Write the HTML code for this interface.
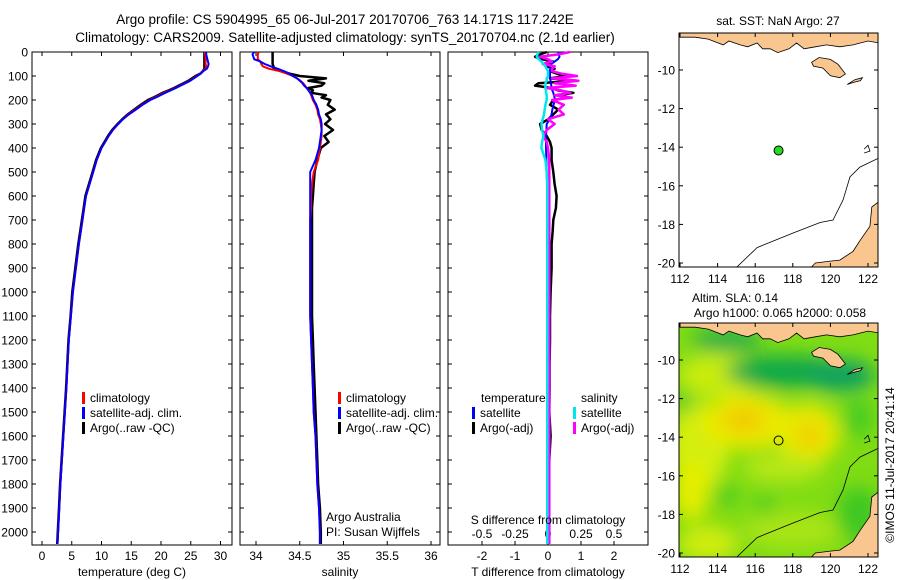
<!DOCTYPE html>
<html><head><meta charset="utf-8"><style>
body{margin:0;background:#fff;}
svg{display:block;font-family:"Liberation Sans",sans-serif;}
</style></head><body>
<svg id="c" width="900" height="580" viewBox="0 0 900 580" xmlns="http://www.w3.org/2000/svg">
<defs>
<filter id="bl" x="-50%" y="-50%" width="200%" height="200%"><feGaussianBlur stdDeviation="9"/></filter>
<clipPath id="m2clip"><rect x="679" y="323" width="199" height="234"/></clipPath>
<clipPath id="m1clip"><rect x="679" y="33" width="199" height="234"/></clipPath>
</defs>
<text x="345" y="24" font-size="13.5" text-anchor="middle">Argo profile: CS 5904995_65 06-Jul-2017 20170706_763 14.171S 117.242E</text>
<text x="345" y="42" font-size="13.5" text-anchor="middle">Climatology: CARS2009. Satellite-adjusted climatology: synTS_20170704.nc (2.1d earlier)</text>
<g id="g"></g>
</svg>
<script>
const depths=[0,10,20,30,40,50,60,70,80,90,100,110,120,130,140,150,160,170,180,190,200,220,240,260,280,300,325,350,375,400,450,500,550,600,650,700,750,800,900,1000,1100,1200,1300,1400,1500,1600,1700,1800,1900,2000,2050];
const tempClim=[27.4,27.4,27.5,27.5,27.5,27.5,27.6,27.5,27.0,26.6,26.0,25.4,24.8,24.0,23.2,22.4,21.5,20.5,19.7,18.9,18.1,16.8,15.7,14.5,13.6,12.8,11.9,11.2,10.6,10.0,9.2,8.6,8.0,7.4,7.1,6.8,6.5,6.2,5.7,5.2,4.85,4.5,4.3,4.1,3.85,3.6,3.35,3.1,2.9,2.7,2.6];
const tempSat=[27.6,27.6,27.7,27.8,27.9,28.0,27.9,27.7,27.1,26.7,26.1,25.5,24.9,24.1,23.3,22.5,21.6,20.7,19.9,19.1,18.2,16.9,15.8,14.6,13.6,12.8,11.9,11.2,10.6,10.0,9.2,8.6,8.0,7.4,7.1,6.8,6.5,6.2,5.7,5.2,4.85,4.5,4.3,4.1,3.85,3.6,3.35,3.1,2.9,2.7,2.6];
const tempArgo=[27.3,27.3,27.3,27.3,27.3,27.3,27.3,27.3,27.0,26.6,25.8,25.2,24.6,23.8,23.0,22.2,21.3,20.3,19.5,18.7,17.8,16.6,15.5,14.4,13.5,12.7,11.8,11.1,10.5,9.9,9.1,8.5,7.9,7.3,7.0,6.7,6.4,6.1,5.6,5.1,4.8,4.45,4.25,4.05,3.8,3.55,3.3,3.05,2.85,2.65,2.55];
const salClim=[34.03,34.02,34.02,34.02,34.05,34.06,34.08,34.15,34.27,34.35,34.42,34.47,34.51,34.54,34.56,34.58,34.6,34.62,34.63,34.64,34.65,34.68,34.7,34.71,34.73,34.74,34.75,34.75,34.74,34.73,34.71,34.66,34.64,34.63,34.63,34.62,34.62,34.62,34.62,34.62,34.62,34.63,34.64,34.65,34.66,34.68,34.69,34.7,34.72,34.73,34.73];
const salSat=[33.98,33.96,33.97,33.98,34.05,34.1,34.17,34.25,34.32,34.38,34.42,34.47,34.5,34.53,34.55,34.58,34.6,34.62,34.64,34.65,34.66,34.69,34.71,34.72,34.74,34.75,34.75,34.74,34.73,34.72,34.68,34.62,34.62,34.62,34.62,34.62,34.62,34.62,34.62,34.62,34.62,34.63,34.64,34.65,34.66,34.68,34.69,34.7,34.72,34.73,34.73];
const salArgo=[34.19,34.19,34.19,34.19,34.19,34.19,34.2,34.2,34.3,34.38,34.5,34.8,34.6,34.78,34.75,34.6,34.65,34.63,34.8,34.75,34.85,34.82,34.9,34.8,34.85,34.79,34.88,34.78,34.83,34.74,34.7,34.67,34.66,34.65,34.64,34.64,34.64,34.64,34.64,34.64,34.64,34.65,34.66,34.67,34.68,34.69,34.7,34.71,34.73,34.74,34.74];
const tDiffSat=[0.31,0.33,0.35,0.3,0.2,0.1,0.08,0.07,0.06,0.06,0.06,0.07,0.08,0.09,0.1,0.11,0.13,0.16,0.18,0.2,0.21,0.17,0.13,0.11,0.05,-0.04,-0.05,-0.06,-0.06,-0.06,-0.05,-0.04,-0.03,-0.03,-0.02,-0.02,-0.02,-0.02,-0.02,-0.02,-0.02,-0.02,-0.02,-0.02,-0.02,-0.02,-0.02,-0.02,-0.02,-0.02,-0.02];
const tDiffArgo=[-0.04,-0.24,-0.39,-0.19,0.16,0.06,-0.04,0.2,0.06,0.26,0.51,0.06,0.87,-0.29,-0.39,0.11,0.31,0.77,0.36,0.62,0.16,0.06,0.31,0.16,0.01,-0.24,-0.19,-0.04,0.06,0.11,0.11,0.16,0.2,0.26,0.24,0.16,0.14,0.11,0.11,0.08,0.06,0.06,0.05,0.05,0.04,0.08,0.04,0.03,0.03,0.03,0.03];
const sDiffSat=[-0.07,-0.08,-0.085,-0.07,-0.05,-0.035,-0.02,-0.01,0,0,0,-0.01,-0.01,-0.02,-0.02,-0.02,-0.015,-0.015,-0.01,-0.01,-0.01,-0.02,-0.025,-0.03,-0.04,-0.05,-0.045,-0.035,-0.045,-0.05,-0.02,-0.01,-0.005,-0.005,-0.005,-0.005,-0.005,-0.005,-0.005,-0.005,-0.005,-0.005,-0.005,-0.005,-0.005,-0.005,-0.005,-0.005,-0.005,-0.005,-0.005];
const sDiffArgo=[0.167,0.078,-0.06,0.0,0.03,-0.04,0.05,0.03,0.03,0.1,0.22,0.03,0.23,0.05,0.21,-0.01,0.1,0.17,0.05,0.18,0.03,0.12,0.08,0.12,0.0,0.05,-0.01,-0.035,-0.01,0.0,0.01,0.01,0.01,0.01,0.01,0.01,0.01,0.01,0.01,0.01,0.01,0.01,0.01,0.01,0.01,0.01,0.01,0.01,0.01,0.01,0.01];
const depthTicks=[0,100,200,300,400,500,600,700,800,900,1000,1100,1200,1300,1400,1500,1600,1700,1800,1900,2000];
const tempTicks=[0,5,10,15,20,25,30];
const salTicks=[34,34.5,35,35.5,36];
const tdTicks=[-2,-1,0,1,2];
const sdTicks=[-0.5,-0.25,0,0.25,0.5];
const lonTicks=[112,114,116,118,120,122];
const latTicks=[-10,-12,-14,-16,-18,-20];
const argoPos=[117.242,-14.171];

const NS='http://www.w3.org/2000/svg';
const G=document.getElementById('g');
function mk(t,a,txt){const e=document.createElementNS(NS,t);for(const k in a)e.setAttribute(k,a[k]);if(txt!==undefined)e.textContent=txt;G.appendChild(e);return e;}
const TOP=52,BOT=545;
const yD=d=>TOP+d*0.24;
const xT=v=>42+v*5.95;
const xS=v=>256+(v-34)*87.5;
const xTD=v=>548+v*33;
const xSD=v=>548+v*132;
const panels=[[32,232],[240,440],[448,648]];

panels.forEach((p,i)=>{
  const r=mk('rect',{x:p[0],y:TOP,width:p[1]-p[0],height:BOT-TOP,fill:'none',stroke:'#000','stroke-width':1});
  
  
  depthTicks.forEach(d=>{
    mk('line',{x1:p[0],x2:p[0]+4,y1:yD(d),y2:yD(d),stroke:'#000'});
    mk('line',{x1:p[1]-4,x2:p[1],y1:yD(d),y2:yD(d),stroke:'#000'});
  });
});
depthTicks.forEach(d=>{
  const t=mk('text',{x:28,y:yD(d)+4.5,'font-size':12,'text-anchor':'end'},String(d));
  
  
});
function xticks(vals,fx,p,labels,ly){
  vals.forEach((v,i)=>{
    const x=fx(v);
    mk('line',{x1:x,x2:x,y1:BOT-4,y2:BOT,stroke:'#000'});
    mk('line',{x1:x,x2:x,y1:TOP,y2:TOP+4,stroke:'#000'});
    if(labels){const t=mk('text',{x:x,y:ly,'font-size':12,'text-anchor':'middle'},String(v));
      
      }
  });
}
xticks(tempTicks,xT,panels[0],true,560);
xticks(salTicks,xS,panels[1],true,560);
xticks(tdTicks,xTD,panels[2],true,560);
sdTicks.forEach(v=>{const t=mk('text',{x:xSD(v),y:538,'font-size':12,'text-anchor':'middle'},String(v));
  
  });

function line(vals,fx,color,name,w){
  const pts=vals.map((v,i)=>fx(v).toFixed(1)+','+yD(depths[i]).toFixed(1)).join(' ');
  const e=mk('polyline',{points:pts,fill:'none',stroke:color,'stroke-width':w||2,'stroke-linejoin':'round'});
  
  
}
line(tempArgo,xT,'#000','temp-argo-line',2.5);
line(tempClim,xT,'#f00','temp-climatology-line');
line(tempSat,xT,'#0000ff','temp-satellite-line');
line(salArgo,xS,'#000','salinity-argo-line',2.5);
line(salClim,xS,'#f00','salinity-climatology-line');
line(salSat,xS,'#0000ff','salinity-satellite-line');
line(tDiffArgo,xTD,'#000','tdiff-argo-line',2.5);
line(tDiffSat,xTD,'#0000ff','tdiff-satellite-line');
line(sDiffArgo,xSD,'#ff00ff','sdiff-argo-line',2.5);
line(sDiffSat,xSD,'#00e5ee','sdiff-satellite-line',2.5);

function label(x,y,s,name,anchor){const t=mk('text',{x:x,y:y,'font-size':12,'text-anchor':anchor||'start'},s);
  }
label(132,576,'temperature (deg C)','x-axis-title-temperature','middle');
label(340,576,'salinity','x-axis-title-salinity','middle');
label(548,576,'T difference from climatology','x-axis-title-tdiff','middle');
label(548,524,'S difference from climatology','s-diff-axis-title','middle');
function leg(x,y,c,s,name){
  mk('rect',{x:x,y:y-10,width:3,height:12,fill:c});
  label(x+8,y,s,name);
}
[[82,'climatology','#f00'],[82,'satellite-adj. clim.','#0000ff'],[82,'Argo(..raw -QC)','#000']].forEach((a,i)=>{
  leg(a[0],402+i*15,a[2],a[1],'temp-legend-entry');
  leg(a[0]+256,402+i*15,a[2],a[1],'salinity-legend-entry');
});
label(481,402,'temperature','legend-heading-temperature');
label(581,402,'salinity','legend-heading-salinity');
leg(472,417,'#0000ff','satellite','legend-tdiff-satellite');
leg(472,432,'#000','Argo(-adj)','legend-tdiff-argo');
leg(573,417,'#00e5ee','satellite','legend-sdiff-satellite');
leg(573,432,'#ff00ff','Argo(-adj)','legend-sdiff-argo');
label(326,521,'Argo Australia','credit-argo-australia');
label(326,536,'PI: Susan Wijffels','credit-pi');

// maps
const mx=lon=>680+(lon-112)*18.8;
function map(oy,colored,clipId,name){
  const my=lat=>oy+70+(-10-lat)*19.3;
  const g=document.createElementNS(NS,'g');G.appendChild(g);
  
  g.setAttribute('clip-path','url(#'+clipId+')');
  const add=(t,a)=>{const e=document.createElementNS(NS,t);for(const k in a)e.setAttribute(k,a[k]);g.appendChild(e);return e;};
  if(colored){
    add('rect',{x:679,y:oy+33,width:199,height:234,fill:'#80dc14'});
    const b=document.createElementNS(NS,'g');b.setAttribute('filter','url(#bl)');g.appendChild(b);
    const blob=(lon,lat,rx,ry,c)=>{const e=document.createElementNS(NS,'ellipse');
      e.setAttribute('cx',mx(lon));e.setAttribute('cy',my(lat));e.setAttribute('rx',rx);e.setAttribute('ry',ry);e.setAttribute('fill',c);b.appendChild(e);};
    blob(114,-10.8,40,22,'#c8ec10');blob(113,-14.5,30,45,'#d4ee10');blob(112.6,-16.8,18,30,'#e4ee00');
    blob(113.5,-19.5,30,18,'#d0ec10');blob(115.6,-13.2,45,28,'#eaea00');blob(115.4,-13.1,22,14,'#f2cc00');
    blob(118.8,-13.8,32,30,'#e8ea00');blob(118.9,-13.9,14,14,'#f0d000');blob(117.5,-15.6,40,14,'#b8e814');
    blob(118,-18.8,50,18,'#a8e418');blob(117.6,-10.6,60,16,'#10a848');blob(120.5,-10.8,35,16,'#10a060');
    blob(114.5,-9,35,10,'#18a850');blob(112.2,-12.2,8,10,'#30c030');blob(114.5,-17,10,10,'#40c820');
    blob(116.5,-17.5,10,10,'#48cc20');blob(121.5,-13,15,20,'#48cc20');blob(121.5,-18,22,28,'#40c820');
  }
  const land='#f9c690';
  const P=pts=>pts.map(p=>mx(p[0]).toFixed(1)+','+my(p[1]).toFixed(1)).join(' ');
  const poly=pts=>add('polygon',{points:P(pts),fill:land,stroke:'#000','stroke-width':0.8});
  poly([[112,-7.8],[122.6,-7.8],[122.6,-8.6],[122,-8.5],[121.2,-8.7],[120.5,-8.8],[119.8,-8.7],[119.2,-8.8],[118.6,-8.9],[118.2,-8.6],[117.8,-8.9],[117.2,-9.1],[116.8,-8.9],[116.4,-8.9],[116.1,-8.6],[115.6,-8.8],[115.2,-8.7],[114.6,-8.5],[114.3,-8.7],[113.5,-8.4],[112.8,-8.3],[112,-8.3]]);
  poly([[119,-9.6],[119.4,-9.35],[120,-9.45],[120.4,-9.7],[120.8,-10.2],[120.5,-10.4],[120.0,-10.3],[119.6,-9.9],[119.1,-9.8]]);
  poly([[120.9,-10.75],[121.3,-10.5],[121.7,-10.4],[121.6,-10.55],[121.2,-10.65]]);
  poly([[118.9,-20.3],[119.2,-20.0],[120.0,-19.9],[120.5,-19.85],[121.2,-19.4],[121.6,-18.8],[122.1,-18.1],[122.2,-17.1],[122.6,-16.8],[122.6,-20.3]]);
  add('polyline',{points:P([[115.03,-20.2],[116.1,-19.2],[118.0,-18.45],[119.45,-17.9],[120.14,-17.77],[120.67,-16.74],[121.04,-15.54],[121.57,-15.03],[122.6,-14.55]]),fill:'none',stroke:'#000','stroke-width':0.8});
  add('polyline',{points:P([[121.8,-14.1],[122.0,-13.9],[122.1,-14.2],[121.8,-14.3]]),fill:'none',stroke:'#000','stroke-width':0.8});
  const pt=add('circle',{cx:mx(argoPos[0]),cy:my(argoPos[1]),r:4.5,fill:colored?'none':'#22dd22',stroke:'#000','stroke-width':1});
  
  const fr=mk('rect',{x:679,y:oy+33,width:199,height:234,fill:'none',stroke:'#000'});
  
  lonTicks.forEach(v=>{mk('line',{x1:mx(v),x2:mx(v),y1:oy+263,y2:oy+267,stroke:'#000'});mk('line',{x1:mx(v),x2:mx(v),y1:oy+33,y2:oy+37,stroke:'#000'});
    const t=mk('text',{x:mx(v),y:oy+283,'font-size':12,'text-anchor':'middle'},String(v));
    });
  latTicks.forEach(v=>{mk('line',{x1:679,x2:683,y1:my(v),y2:my(v),stroke:'#000'});mk('line',{x1:874,x2:878,y1:my(v),y2:my(v),stroke:'#000'});
    const t=mk('text',{x:675,y:my(v)+4.5,'font-size':12,'text-anchor':'end'},String(v));
    });
}
map(0,false,'m1clip','sst-map');
map(290,true,'m2clip','sla-map');
label(778,25,'sat. SST: NaN Argo: 27','sst-map-title','middle');
label(735,302,'Altim. SLA: 0.14','sla-map-title','middle');
label(780,317,'Argo h1000: 0.065 h2000: 0.058','sla-map-subtitle','middle');
const rt=mk('text',{x:0,y:0,'font-size':12,'text-anchor':'middle',transform:'translate(894,465) rotate(-90)'},'©IMOS 11-Jul-2017 20:41:14');

</script>
</body></html>
